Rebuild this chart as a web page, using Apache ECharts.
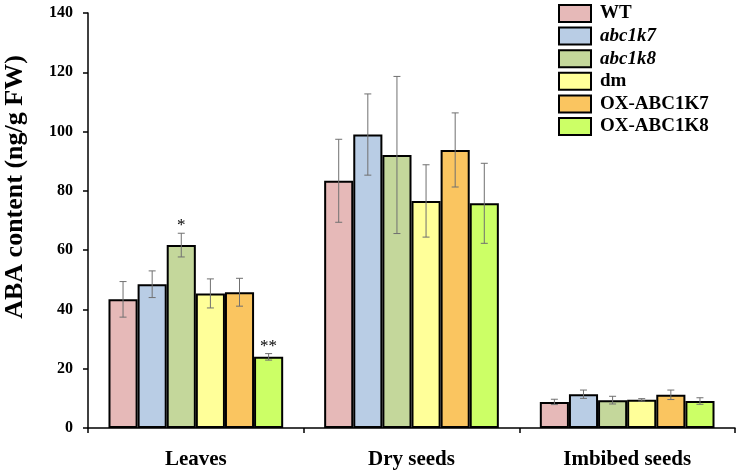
<!DOCTYPE html>
<html>
<head>
<meta charset="utf-8">
<script src="https://cdn.jsdelivr.net/npm/echarts@6/dist/echarts.min.js"></script>
<style>html,body{margin:0;padding:0;background:#fff;}#c{width:739px;height:474px;}</style>
</head>
<body>
<div id="c"></div>
<script>
var categories = ['Leaves', 'Dry seeds', 'Imbibed seeds'];
var genotypes = ['WT', 'abc1k7', 'abc1k8', 'dm', 'OX-ABC1K7', 'OX-ABC1K8'];
var italicNames = ['abc1k7', 'abc1k8'];
var colors = ['#e6b9b8', '#b9cde5', '#c4d79b', '#ffff99', '#fac560', '#ccff66'];
var yTicks = [0, 20, 40, 60, 80, 100, 120, 140];

var wtVals = [43.4, 83.4, 8.8];
var wtErr = [6.0, 14.0, 0.9];
var k7Vals = [48.5, 99.0, 11.4];
var k7Err = [4.5, 13.7, 1.4];
var k8Vals = [61.7, 92.1, 9.4];
var k8Err = [4.0, 26.5, 1.3];
var dmVals = [45.4, 76.6, 9.5];
var dmErr = [4.9, 12.2, 0.4];
var oxk7Vals = [45.8, 93.8, 11.2];
var oxk7Err = [4.7, 12.5, 1.6];
var oxk8Vals = [24.0, 75.8, 9.1];
var oxk8Err = [1.1, 13.5, 1.1];
var k8Stars = ['*', '', ''];
var oxk8Stars = ['**', '', ''];
var noStars = ['', '', ''];

var values = [wtVals, k7Vals, k8Vals, dmVals, oxk7Vals, oxk8Vals];
var errors = [wtErr, k7Err, k8Err, dmErr, oxk7Err, oxk8Err];
var stars = [noStars, noStars, k8Stars, noStars, noStars, oxk8Stars];

var FONT = "'Liberation Serif', 'Times New Roman', serif";
var CAT_GAP = 0.19;
var N = genotypes.length;

var series = [];
genotypes.forEach(function (g, i) {
  series.push({
    name: g,
    type: 'bar',
    barGap: '0%',
    barCategoryGap: (CAT_GAP * 100) + '%',
    itemStyle: { color: colors[i], borderColor: '#000', borderWidth: 2 },
    data: values[i],
    z: 2
  });
});
genotypes.forEach(function (g, i) {
  var d = categories.map(function (c, j) { return [j, values[i][j], errors[i][j], stars[i][j]]; });
  series.push({
    name: 'err_' + g,
    type: 'custom',
    z: 5,
    silent: true,
    data: d,
    renderItem: function (params, api) {
      var cat = api.value(0), v = api.value(1), e = api.value(2);
      var star = d[params.dataIndex][3];
      var band = api.size([1, 0])[0];
      var bw = band * (1 - CAT_GAP) / N;
      var c = api.coord([cat, v]);
      var x = c[0] + (i - (N - 1) / 2) * bw;
      var top = api.coord([cat, v + e])[1];
      var bot = api.coord([cat, v - e])[1];
      var cap = 3.5;
      var st = { stroke: '#707070', lineWidth: 1 };
      var children = [
        { type: 'line', shape: { x1: x, y1: top, x2: x, y2: bot }, style: st },
        { type: 'line', shape: { x1: x - cap, y1: top, x2: x + cap, y2: top }, style: st },
        { type: 'line', shape: { x1: x - cap, y1: bot, x2: x + cap, y2: bot }, style: st }
      ];
      if (star) {
        children.push({ type: 'text', style: { text: star, x: x, y: top + 1, textAlign: 'center', textVerticalAlign: 'bottom', font: '17px ' + FONT, fill: '#000' } });
      }
      return { type: 'group', children: children };
    }
  });
});

var chart = echarts.init(document.getElementById('c'));
chart.setOption({
  animation: false,
  grid: { left: 88, right: 4, top: 13, bottom: 46 },
  legend: {
    data: genotypes,
    orient: 'vertical',
    left: 558,
    top: 4,
    padding: 0,
    icon: 'rect',
    itemWidth: 32,
    itemHeight: 17,
    itemGap: 3.6,
    itemStyle: { borderColor: '#000', borderWidth: 2 },
    formatter: function (name) {
      return italicNames.indexOf(name) >= 0 ? '{i|' + name + '}' : '{b|' + name + '}';
    },
    textStyle: {
      padding: [0, 0, 0, 4],
      rich: {
        i: { fontFamily: FONT, fontWeight: 'bold', fontStyle: 'italic', fontSize: 19, color: '#000' },
        b: { fontFamily: FONT, fontWeight: 'bold', fontSize: 19, color: '#000' }
      }
    }
  },
  xAxis: {
    type: 'category',
    data: categories,
    axisLine: { lineStyle: { color: '#000', width: 1.5 } },
    axisTick: { show: true, alignWithLabel: false, length: 5, lineStyle: { color: '#000', width: 1.5 } },
    axisLabel: { fontFamily: FONT, fontWeight: 'bold', fontSize: 21, color: '#000', margin: 21 }
  },
  yAxis: {
    type: 'value',
    min: yTicks[0],
    max: yTicks[yTicks.length - 1],
    interval: yTicks[1] - yTicks[0],
    axisLine: { show: true, lineStyle: { color: '#000', width: 1.5 } },
    axisTick: { show: true, length: 5, lineStyle: { color: '#000', width: 1.5 } },
    splitLine: { show: false },
    axisLabel: { fontFamily: FONT, fontWeight: 'bold', fontSize: 16, color: '#000', margin: 15 }
  },
  graphic: [{
    type: 'text',
    x: 15,
    y: 187,
    rotation: Math.PI / 2,
    style: { text: 'ABA content (ng/g FW)', font: 'bold 26px ' + FONT, fill: '#000', textAlign: 'center', textVerticalAlign: 'middle' }
  }],
  series: series
});
</script>
</body>
</html>
